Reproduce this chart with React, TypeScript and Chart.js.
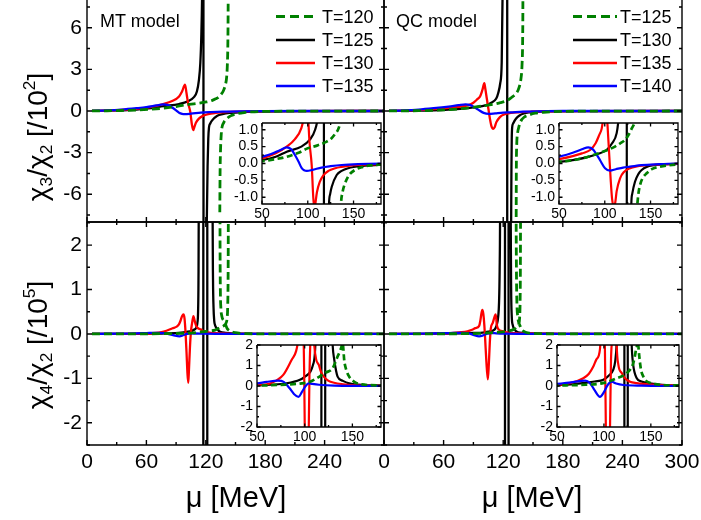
import React, { useEffect, useRef } from 'react';
import { Chart, registerables } from 'chart.js';

Chart.register(...registerables);

type Pt = [number, number | null];

const FONT = 'Arial, "Liberation Sans", Helvetica, sans-serif';
const W = 701;
const H = 520;
const AXW = 60;
const AXH = 40;

// ---------- tick values ----------
const muMainMajor = [0, 60, 120, 180, 240, 300];
const muMainMinor = [30, 90, 150, 210, 270];
const muLabelsLeft = [0, 60, 120, 180, 240];
const muLabelsRight = [0, 60, 120, 180, 240, 300];
const chi3Labels = [-6, -3, 0, 3, 6];
const chi3Minor = [-7.5, -4.5, -1.5, 1.5, 4.5, 7.5];
const chi4Labels = [-2, -1, 0, 1, 2];
const chi4Minor = [-2.5, -1.5, -0.5, 0.5, 1.5, 2.5];
const muInsetLabels = [50, 100, 150];
const muInsetMinor = [75, 125, 175];
const chi3InsetLabels = [-1.0, -0.5, 0.0, 0.5, 1.0];
const chi3InsetMinor = [-0.75, -0.25, 0.25, 0.75];
const chi4InsetLabels = [-2, -1, 0, 1, 2];
const chi4InsetMinor = [-1.5, -0.5, 0.5, 1.5];

// ---------- legends ----------
const mtTemps = ['T=120', 'T=125', 'T=130', 'T=135'];
const qcTemps = ['T=125', 'T=130', 'T=135', 'T=140'];
const seriesColors = ['#008000', '#000000', '#ff0000', '#0000ff'];

// ---------- data: [mu (MeV), value] ----------
// MT model, chi3/chi2 [/10^2]
const mtC3T120: Pt[] = [[5, 0.003], [20, 0.015], [35, 0.035], [50, 0.07], [65, 0.13], [77, 0.2], [90, 0.32], [100, 0.45], [110, 0.53], [120.7, 0.65], [126, 0.75], [130, 0.88], [133, 1.0], [135.5, 1.2], [138, 1.5], [140, 1.95], [141, 2.4], [141.8, 3.4], [142.3, 5], [142.6, 8], [142.75, 12], [142.8, null],
  [134.15, -7.3], [134.4, -4.6], [134.8, -3], [135.5, -1.8], [136.3, -1.2], [138, -0.85], [140.7, -0.59], [145, -0.35], [151.6, -0.19], [160, -0.1], [166, -0.065], [180, -0.03], [220, -0.01], [300, 0]];
const mtC3T125: Pt[] = [[5, 0.005], [20, 0.02], [35, 0.05], [50, 0.1], [65, 0.2], [77, 0.35], [93, 0.5], [102, 0.7], [108, 1.0], [111, 1.4], [113, 2.2], [114.5, 3.5], [115.5, 5.5], [116.2, 8], [117, 14], [117.5, 30], [117.8, -30], [120.3, -13], [121, -8], [121.8, -4], [122.5, -2], [123.2, -1.2], [124.5, -0.9], [126.2, -0.69], [131.6, -0.34], [137, -0.22], [144, -0.14], [160, -0.07], [178, -0.045], [220, -0.01], [300, 0]];
const mtC3T130: Pt[] = [[5, 0.005], [20, 0.03], [35, 0.08], [50, 0.15], [65, 0.3], [77, 0.5], [86, 0.72], [93, 1.05], [96, 1.4], [99, 1.9], [100.5, 1.3], [102, 0.6], [104.3, -0.05], [106, -1.0], [107.4, -1.38], [108.5, -1.15], [110, -0.85], [113, -0.55], [117, -0.35], [122.5, -0.22], [130, -0.14], [137, -0.1], [150, -0.05], [165, -0.03], [200, -0.01], [300, 0]];
const mtC3T135: Pt[] = [[5, 0.01], [20, 0.04], [35, 0.1], [50, 0.2], [60, 0.28], [70, 0.4], [77, 0.48], [82, 0.42], [86, 0.25], [90, 0.05], [93.4, -0.14], [96, -0.2], [99, -0.22], [105, -0.19], [115, -0.12], [125, -0.08], [137, -0.045], [155, -0.02], [180, -0.005], [220, 0], [300, 0]];

// QC model, chi3/chi2 [/10^2]
const qcC3T125: Pt[] = [[5, 0.002], [20, 0.01], [35, 0.025], [50, 0.05], [65, 0.1], [75, 0.15], [87.5, 0.25], [100, 0.37], [111.2, 0.5], [117, 0.6], [122.1, 0.7], [126, 0.85], [129.5, 1.04], [133, 1.25], [136, 1.7], [138, 2.4], [139, 3.4], [139.6, 5.3], [139.85, 8.7], [139.95, 15], [140, null],
  [133.05, -8.5], [133.2, -4.5], [133.6, -2.5], [134.5, -1.6], [135.6, -1.2], [137, -0.85], [138.5, -0.64], [141, -0.45], [145.8, -0.29], [152, -0.16], [160.4, -0.095], [180, -0.03], [220, -0.01], [300, 0]];
const qcC3T130: Pt[] = [[5, 0.003], [20, 0.012], [35, 0.025], [50, 0.05], [65, 0.1], [80, 0.18], [92, 0.28], [102, 0.4], [108, 0.6], [113, 0.9], [115, 1.3], [117, 2.0], [118.5, 3.5], [119.3, 8], [120, 14], [124, 40], [124.1, -40], [127.5, -12], [128, -8], [128.3, -4], [128.6, -2], [129, -1.2], [130, -0.9], [133, -0.54], [137, -0.3], [140, -0.2], [145.8, -0.1], [164, -0.03], [200, -0.005], [300, 0]];
const qcC3T135: Pt[] = [[5, 0.005], [20, 0.03], [35, 0.07], [50, 0.13], [65, 0.22], [75, 0.3], [84, 0.4], [90, 0.6], [94, 0.85], [96.7, 1.04], [99, 1.5], [101, 2.0], [102, 1.6], [103.5, 0.9], [105, 0.2], [106.5, -0.5], [108, -1.05], [110, -1.28], [111.5, -1.15], [113, -0.82], [116.7, -0.44], [121, -0.25], [127.6, -0.14], [135, -0.09], [149.5, -0.045], [170, -0.02], [200, -0.005], [300, 0]];
const qcC3T140: Pt[] = [[5, 0.01], [20, 0.04], [35, 0.1], [50, 0.2], [65, 0.32], [75, 0.42], [82, 0.48], [87, 0.42], [91, 0.27], [94.8, 0.1], [100.3, -0.14], [105.7, -0.21], [112, -0.17], [120, -0.12], [127.6, -0.095], [140, -0.05], [160, -0.02], [180, 0], [300, 0]];

// MT model, chi4/chi2 [/10^5]
const mtC4T120: Pt[] = [[5, 0], [35, 0.001], [50, 0.002], [65, 0.004], [80, 0.007], [95, 0.012], [105, 0.02], [115.5, 0.046], [122, 0.065], [129.3, 0.087], [134.5, 0.144], [137, 0.17], [139, 0.2], [140.5, 0.25], [141.5, 0.35], [142.1, 0.6], [142.5, 1.2], [142.7, 2.2], [142.85, 4], [142.9, null],
  [134.2, 4], [134.4, 2], [134.7, 1.0], [135.2, 0.6], [136.2, 0.4], [138, 0.3], [139.8, 0.22], [140.7, 0.17], [141.4, 0.128], [143.5, 0.08], [146.6, 0.046], [150, 0.028], [153.5, 0.016], [160, 0.008], [180, 0.003], [300, 0]];
const mtC4T125: Pt[] = [[5, 0.0005], [20, 0.001], [35, 0.002], [50, 0.003], [65, 0.006], [80, 0.012], [95, 0.03], [100, 0.045], [106, 0.07], [108.5, 0.1], [110.5, 0.15], [111.5, 0.25], [112.2, 0.5], [112.6, 1.2], [112.9, 3], [113.1, 8], [117.45, 60], [117.55, -60], [121.45, -60], [121.55, 60], [126.3, 10], [126.8, 3], [127.3, 1.2], [127.8, 0.6], [128.5, 0.3], [129.3, 0.2], [131, 0.128], [134.5, 0.046], [140, 0.025], [146.6, 0.013], [160, 0.005], [180, 0.003], [300, 0]];
const mtC4T130: Pt[] = [[5, 0.001], [20, 0.002], [35, 0.003], [50, 0.005], [65, 0.015], [77.5, 0.054], [86.4, 0.128], [91, 0.17], [93, 0.22], [94.5, 0.3], [96, 0.4], [97.5, 0.44], [98.5, 0.35], [99.5, 0.05], [100.5, -0.4], [101.5, -0.9], [102.3, -1.1], [103, -0.8], [104, -0.3], [105, 0.05], [106.2, 0.25], [107.5, 0.4], [108.5, 0.32], [110, 0.2], [112, 0.13], [114.8, 0.103], [117, 0.07], [120, 0.046], [125, 0.025], [130.8, 0.016], [148, 0.005], [180, 0.001], [300, 0]];
const mtC4T135: Pt[] = [[5, 0.001], [20, 0.004], [35, 0.008], [50, 0.013], [60, 0.02], [72, 0.026], [78, 0.02], [84, -0.01], [89, -0.04], [93.5, -0.053], [97, -0.03], [101, 0.0], [104, 0.013], [108, 0.01], [115, 0.006], [131, 0.002], [160, 0.0005], [180, 0], [300, 0]];

// QC model, chi4/chi2 [/10^5]
const qcC4T125: Pt[] = [[5, 0], [35, 0.001], [50, 0.002], [65, 0.004], [80, 0.006], [100, 0.015], [113.6, 0.038], [124.3, 0.063], [131.3, 0.112], [134.2, 0.177], [135.6, 0.22], [136.5, 0.35], [137, 0.7], [137.3, 1.5], [137.5, 3], [137.7, 6], [137.75, null],
  [132.8, 6], [133, 3], [133.3, 1.5], [133.8, 0.7], [134.6, 0.4], [135.6, 0.26], [136.8, 0.19], [137.7, 0.144], [139.5, 0.08], [142, 0.046], [145, 0.025], [149.1, 0.016], [160, 0.006], [180, 0.003], [300, 0]];
const qcC4T130: Pt[] = [[5, 0.0005], [20, 0.001], [35, 0.002], [50, 0.005], [65, 0.008], [80, 0.015], [90, 0.022], [99.4, 0.03], [105, 0.05], [110, 0.08], [112, 0.12], [113.5, 0.2], [115, 0.4], [115.8, 0.7], [116.4, 1.4], [116.9, 3], [117.3, 8], [121.75, 60], [121.85, -60], [125.35, -60], [125.45, 60], [127.2, 8], [127.6, 2.5], [128, 1.0], [128.6, 0.4], [129.6, 0.2], [131, 0.11], [135, 0.038], [140, 0.022], [149, 0.013], [165, 0.005], [180, 0.003], [300, 0]];
const qcC4T135: Pt[] = [[5, 0.001], [20, 0.002], [35, 0.003], [50, 0.005], [65, 0.015], [78, 0.038], [84, 0.06], [88.7, 0.095], [92, 0.13], [95.8, 0.18], [97, 0.3], [98, 0.45], [99, 0.54], [100, 0.45], [101, 0.2], [101.8, -0.1], [103, -0.6], [104.5, -1.02], [105.5, -0.7], [106.5, -0.2], [107.5, 0.12], [109.5, 0.25], [111.5, 0.4], [112.5, 0.44], [113.6, 0.2], [115.4, 0.103], [119, 0.063], [123, 0.035], [127.8, 0.021], [135, 0.014], [142, 0.01], [160, 0.004], [180, 0.002], [300, 0]];
const qcC4T140: Pt[] = [[5, 0.001], [20, 0.003], [35, 0.006], [50, 0.01], [65, 0.018], [80, 0.026], [85, 0.015], [90, -0.02], [95.8, -0.053], [100, -0.03], [104, 0.005], [108.3, 0.021], [113, 0.012], [120.7, 0.005], [140, 0.002], [180, 0], [300, 0]];

// inset of chi4/chi2 is shown in units of 10^4
const chi4InsetFactor = 10;

// ---------- panel specification ----------
interface Rect { l: number; t: number; r: number; b: number }
interface PanelSpec {
  rect: Rect;
  xRange: [number, number];
  yRange: [number, number];
  xLabels: number[]; xMajor: number[]; xMinor: number[]; showX: boolean;
  yLabels: number[]; yMinor: number[]; showY: boolean;
  fontSize: number; xPad: number; yPad: number;
  yFmt: (v: number) => string;
  tickLen: [number, number];
  frameWidth: number;
  skipTop?: boolean;
  curves: Pt[][];
  yFactor: number;
  lineWidth: number;
  dashWidth: number;
  dash: number[];
}

const intFmt = (v: number) => String(Math.round(v * 100) / 100);
const oneDec = (v: number) => v.toFixed(1);

const mainBase = {
  xRange: [0, 300] as [number, number],
  xMajor: muMainMajor, xMinor: muMainMinor,
  fontSize: 21, xPad: 5, yPad: 5, yFmt: intFmt,
  tickLen: [5, 3] as [number, number], frameWidth: 1.4,
  yFactor: 1, lineWidth: 2.3, dashWidth: 2.8, dash: [8, 4],
};
const insetBase = {
  xRange: [50, 180] as [number, number],
  xLabels: muInsetLabels, xMajor: muInsetLabels, xMinor: muInsetMinor, showX: true,
  fontSize: 14, xPad: 2, yPad: 4, showY: true,
  tickLen: [3.5, 2] as [number, number], frameWidth: 1.3,
  lineWidth: 2.2, dashWidth: 2.7, dash: [6, 3.5],
};

const panels: PanelSpec[] = [
  { ...mainBase, rect: { l: 87, t: 0, r: 384, b: 222 }, yRange: [-8, 8], xLabels: muMainMajor, showX: false, yLabels: chi3Labels, yMinor: chi3Minor, showY: true, skipTop: true, curves: [mtC3T120, mtC3T125, mtC3T130, mtC3T135] },
  { ...mainBase, rect: { l: 384, t: 0, r: 682, b: 222 }, yRange: [-8, 8], xLabels: muMainMajor, showX: false, yLabels: chi3Labels, yMinor: chi3Minor, showY: false, skipTop: true, curves: [qcC3T125, qcC3T130, qcC3T135, qcC3T140] },
  { ...mainBase, rect: { l: 87, t: 222, r: 384, b: 445 }, yRange: [-2.5, 2.52], xLabels: muLabelsLeft, showX: true, yLabels: chi4Labels, yMinor: chi4Minor, showY: true, curves: [mtC4T120, mtC4T125, mtC4T130, mtC4T135] },
  { ...mainBase, rect: { l: 384, t: 222, r: 682, b: 445 }, yRange: [-2.5, 2.52], xLabels: muLabelsRight, showX: true, yLabels: chi4Labels, yMinor: chi4Minor, showY: false, curves: [qcC4T125, qcC4T130, qcC4T135, qcC4T140] },
  { ...insetBase, rect: { l: 262, t: 123, r: 381, b: 204 }, yRange: [-1.2, 1.2], yLabels: chi3InsetLabels, yMinor: chi3InsetMinor, yFmt: oneDec, yFactor: 1, curves: [mtC3T120, mtC3T125, mtC3T130, mtC3T135] },
  { ...insetBase, rect: { l: 559, t: 123, r: 678, b: 204 }, yRange: [-1.2, 1.2], yLabels: chi3InsetLabels, yMinor: chi3InsetMinor, yFmt: oneDec, yFactor: 1, curves: [qcC3T125, qcC3T130, qcC3T135, qcC3T140] },
  { ...insetBase, rect: { l: 257, t: 345, r: 381, b: 427 }, yRange: [-2, 2], yLabels: chi4InsetLabels, yMinor: chi4InsetMinor, yFmt: intFmt, yFactor: chi4InsetFactor, curves: [mtC4T120, mtC4T125, mtC4T130, mtC4T135] },
  { ...insetBase, rect: { l: 557, t: 345, r: 679, b: 427 }, yRange: [-2, 2], yLabels: chi4InsetLabels, yMinor: chi4InsetMinor, yFmt: intFmt, yFactor: chi4InsetFactor, curves: [qcC4T125, qcC4T130, qcC4T135, qcC4T140] },
];

// ---------- frame + inward ticks plugin ----------
const frameTicks = {
  id: 'frameTicks',
  afterDatasetsDraw(chart: any, _args: any, opts: any) {
    if (!opts || !opts.on) return;
    const { ctx, chartArea: a } = chart;
    const xs = chart.scales.x;
    const ys = chart.scales.y;
    ctx.save();
    ctx.strokeStyle = '#000';
    ctx.lineWidth = opts.frameWidth;
    ctx.lineCap = 'butt';
    ctx.beginPath();
    ctx.moveTo(a.left, a.top);
    ctx.lineTo(a.left, a.bottom);
    ctx.lineTo(a.right, a.bottom);
    ctx.lineTo(a.right, a.top);
    if (!opts.skipTop) ctx.lineTo(a.left, a.top);
    ctx.stroke();
    ctx.beginPath();
    const xt: [number[], number][] = [[opts.xMajor, opts.tickLen[0]], [opts.xMinor, opts.tickLen[1]]];
    for (const [vals, len] of xt) {
      for (const v of vals) {
        const p = xs.getPixelForValue(v);
        ctx.moveTo(p, a.bottom); ctx.lineTo(p, a.bottom - len);
        if (!opts.skipTop) { ctx.moveTo(p, a.top); ctx.lineTo(p, a.top + len); }
      }
    }
    const yt: [number[], number][] = [[opts.yMajor, opts.tickLen[0]], [opts.yMinor, opts.tickLen[1]]];
    for (const [vals, len] of yt) {
      for (const v of vals) {
        const p = ys.getPixelForValue(v);
        ctx.moveTo(a.left, p); ctx.lineTo(a.left + len, p);
        ctx.moveTo(a.right, p); ctx.lineTo(a.right - len, p);
      }
    }
    ctx.stroke();
    ctx.restore();
  },
};
Chart.register(frameTicks);

function buildConfig(s: PanelSpec): any {
  const font = { family: FONT, size: s.fontSize };
  // draw order: green on top, then blue, red, black
  const order = [0, 3, 2, 1];
  const datasets = order.map((i) => ({
    data: s.curves[i].map(([x, y]) => ({ x, y: y === null ? null : y * s.yFactor })),
    borderColor: seriesColors[i],
    backgroundColor: seriesColors[i],
    borderWidth: i === 0 ? s.dashWidth : s.lineWidth,
    borderDash: i === 0 ? s.dash : [],
    pointRadius: 0,
    pointHoverRadius: 0,
    fill: false,
    spanGaps: false,
    cubicInterpolationMode: 'monotone',
  }));
  const zeroPad = (sc: any) => { sc.paddingLeft = 0; sc.paddingRight = 0; sc.paddingTop = 0; sc.paddingBottom = 0; };
  return {
    type: 'line',
    data: { datasets },
    options: {
      responsive: false,
      maintainAspectRatio: false,
      animation: false,
      devicePixelRatio: 1,
      events: [],
      layout: { padding: { left: s.rect.l - AXW, top: s.rect.t, right: W - s.rect.r, bottom: H - s.rect.b - AXH } },
      plugins: {
        legend: { display: false },
        tooltip: { enabled: false },
        frameTicks: {
          on: true, frameWidth: s.frameWidth, skipTop: !!s.skipTop, tickLen: s.tickLen,
          xMajor: s.xMajor, xMinor: s.xMinor, yMajor: s.yLabels, yMinor: s.yMinor,
        },
      },
      scales: {
        x: {
          type: 'linear', position: 'bottom', min: s.xRange[0], max: s.xRange[1],
          grid: { display: false, drawTicks: false }, border: { display: false },
          ticks: { display: s.showX, autoSkip: false, maxRotation: 0, padding: s.xPad, font, color: '#000', callback: (v: number) => intFmt(v) },
          afterBuildTicks: (sc: any) => { sc.ticks = s.xLabels.map((v) => ({ value: v })); },
          afterFit: (sc: any) => { sc.height = AXH; zeroPad(sc); },
        },
        y: {
          type: 'linear', position: 'left', min: s.yRange[0], max: s.yRange[1],
          grid: { display: false, drawTicks: false }, border: { display: false },
          ticks: { display: s.showY, autoSkip: false, padding: s.yPad, font, color: '#000', callback: (v: number) => s.yFmt(v) },
          afterBuildTicks: (sc: any) => { sc.ticks = s.yLabels.map((v) => ({ value: v })); },
          afterFit: (sc: any) => { sc.width = AXW; zeroPad(sc); },
        },
      },
    },
  };
}

function PanelCanvas({ spec }: { spec: PanelSpec }) {
  const ref = useRef<HTMLCanvasElement>(null);
  useEffect(() => {
    if (!ref.current) return;
    const chart = new Chart(ref.current, buildConfig(spec));
    return () => chart.destroy();
  }, [spec]);
  return (
    <canvas ref={ref} width={W} height={H}
      style={{ position: 'absolute', left: 0, top: 0, width: W, height: H, pointerEvents: 'none' }} />
  );
}

// ---------- text overlays ----------
function Txt({ x, cy, size, children }: { x: number; cy: number; size: number; children: React.ReactNode }) {
  return (
    <div style={{ position: 'absolute', left: x, top: cy - size * 0.49, fontFamily: FONT, fontSize: size, lineHeight: `${size}px`, whiteSpace: 'nowrap', color: '#000' }}>
      {children}
    </div>
  );
}

function VTitle({ cx, cy, sub, pow }: { cx: number; cy: number; sub: string; pow: string }) {
  const s = { fontSize: '0.62em', verticalAlign: '-0.28em', lineHeight: 0 } as React.CSSProperties;
  const p = { fontSize: '0.62em', verticalAlign: '0.72em', lineHeight: 0 } as React.CSSProperties;
  return (
    <div style={{ position: 'absolute', left: cx, top: cy, transform: 'translate(-50%, -50%) rotate(-90deg)', fontFamily: FONT, fontSize: 28, lineHeight: '32px', whiteSpace: 'nowrap', color: '#000' }}>
      χ<span style={s}>{sub}</span>/χ<span style={s}>2</span> [/10<span style={p}>{pow}</span>]
    </div>
  );
}

function XTitle({ cx, cy }: { cx: number; cy: number }) {
  return (
    <div style={{ position: 'absolute', left: cx, top: cy, transform: 'translate(-50%, -50%)', fontFamily: FONT, fontSize: 29, lineHeight: '32px', whiteSpace: 'nowrap', color: '#000' }}>
      μ [MeV]
    </div>
  );
}

const legendRows = [16.5, 40, 63, 86];
const legendA = { x1: 276, x2: 315, tx: 322 };
const legendB = { x1: 573, x2: 617, tx: 620 };

export default function App() {
  return (
    <div style={{ position: 'fixed', left: 0, top: 0, width: W, height: H, background: '#fff', overflow: 'hidden' }}>
      {panels.map((p, i) => <PanelCanvas key={i} spec={p} />)}
      <svg width={W} height={H} style={{ position: 'absolute', left: 0, top: 0, pointerEvents: 'none' }}>
        {[legendA, legendB].map((lg, j) =>
          legendRows.map((y, i) => (
            <line key={`${j}-${i}`} x1={lg.x1} x2={lg.x2} y1={y} y2={y} stroke={seriesColors[i]}
              strokeWidth={i === 0 ? 3 : 2.7} strokeDasharray={i === 0 ? '9 5' : undefined} />
          ))
        )}
      </svg>
      {mtTemps.map((t, i) => <Txt key={'a' + i} x={legendA.tx} cy={legendRows[i]} size={18}>{t}</Txt>)}
      {qcTemps.map((t, i) => <Txt key={'b' + i} x={legendB.tx} cy={legendRows[i]} size={18}>{t}</Txt>)}
      <Txt x={100} cy={21} size={18}>MT model</Txt>
      <Txt x={396} cy={21} size={18}>QC model</Txt>
      <VTitle cx={38} cy={137} sub="3" pow="2" />
      <VTitle cx={38} cy={345} sub="4" pow="5" />
      <XTitle cx={236} cy={497} />
      <XTitle cx={532} cy={497} />
    </div>
  );
}
